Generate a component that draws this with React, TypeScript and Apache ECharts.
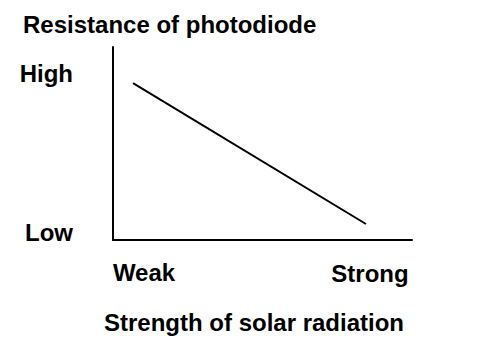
import React, { useEffect, useRef } from "react";
import * as echarts from "echarts";

const yTitle = "Resistance of photodiode";
const xTitle = "Strength of solar radiation";
const yTickLabels = ["High", "Low"];
const xTickLabels = ["Weak", "Strong"];
const lineX = [6.7, 84.6];
const lineY = [81.3, 8.3];

export default function App() {
  const ref = useRef<HTMLDivElement>(null);
  useEffect(() => {
    if (!ref.current) return;
    const chart = echarts.init(ref.current, undefined, { renderer: "svg" });
    const font = "'Liberation Sans', Arial, Helvetica, sans-serif";
    const txt = (text: string, x: number, y: number, align: string) => ({
      type: "text",
      x,
      y,
      style: {
        text,
        fill: "#000",
        font: `bold 24px ${font}`,
        align,
        verticalAlign: "middle",
      },
    });
    chart.setOption({
      animation: false,
      backgroundColor: "#fff",
      grid: { left: 113, right: 68, top: 47, bottom: 120 },
      xAxis: {
        type: "value",
        min: 0,
        max: 100,
        axisLine: { show: true, onZero: false, lineStyle: { color: "#000", width: 2 } },
        axisTick: { show: false },
        axisLabel: { show: false },
        splitLine: { show: false },
      },
      yAxis: {
        type: "value",
        min: 0,
        max: 100,
        axisLine: { show: true, onZero: false, lineStyle: { color: "#000", width: 2 } },
        axisTick: { show: false },
        axisLabel: { show: false },
        splitLine: { show: false },
      },
      series: [
        {
          type: "line",
          data: lineX.map((x, i) => [x, lineY[i]]),
          symbol: "none",
          lineStyle: { color: "#000", width: 2 },
        },
      ],
      graphic: [
        txt(yTitle, 23, 24, "left"),
        txt(yTickLabels[0], 73, 73, "right"),
        txt(yTickLabels[1], 73, 232, "right"),
        txt(xTickLabels[0], 144, 272, "center"),
        txt(xTickLabels[1], 370, 273, "center"),
        txt(xTitle, 254, 322, "center"),
      ],
    });
    return () => chart.dispose();
  }, []);
  return (
    <div
      ref={ref}
      style={{ position: "absolute", left: 0, top: 0, width: 480, height: 360 }}
    />
  );
}
